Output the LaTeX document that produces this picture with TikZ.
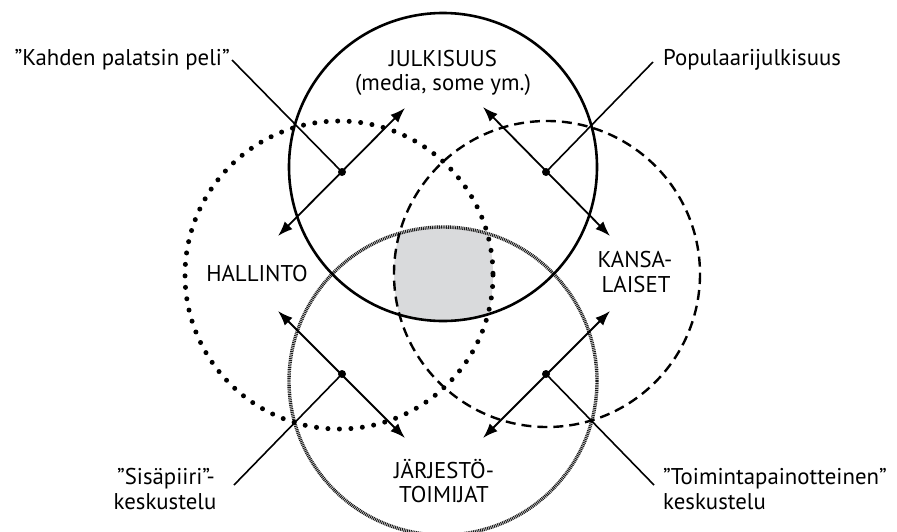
\documentclass[tikz,border=0pt]{standalone}
\usepackage{fontspec}
\setmainfont{PT Sans}
\usetikzlibrary{arrows.meta}
\definecolor{shadegray}{RGB}{217,218,220}
\begin{document}
\begin{tikzpicture}[x=1pt,y=-1pt,
  lbl/.style={inner sep=0pt,font=\fontsize{22.8}{26}\selectfont},
  solidc/.style={line width=2.6pt},
  dotc/.style={line width=5pt,line cap=round,dash pattern=on 0pt off 11.5pt},
  dashc/.style={line width=2.4pt,dash pattern=on 10pt off 6pt},
  finec/.style={line width=3.4pt,black!90,dash pattern=on 1pt off 0.8pt},
  dbl/.style={line width=1.8pt,{Latex[length=15pt,width=11pt]}-{Latex[length=15pt,width=11pt]}},
  leader/.style={line width=1.6pt},
  hub/.style={circle,fill=black,inner sep=0pt,minimum size=8pt}]
\useasboundingbox (0,0) rectangle (897,531);
% circle centres
\coordinate (A) at (443,167);
\coordinate (B) at (339,275);
\coordinate (C) at (547,274);
\coordinate (D) at (443,381);
% shaded common part
\begin{scope}
  \clip (A) circle (154);
  \clip (B) circle (154);
  \clip (C) circle (153);
  \fill[shadegray] (D) circle (154);
\end{scope}
\begin{scope}
  \clip (0,0) rectangle (897,531);
  \draw[finec] (D) circle (154);
\end{scope}
\draw[dotc] (B) circle (154);
\draw[dashc] (C) circle (153);
\draw[solidc] (A) circle (154);
% texts
\node[lbl,anchor=base] (julk1) at (443,66.5) {JULKISUUS};
\node[lbl,anchor=base] (julk2) at (443,90.5) {(media, some ym.)};
\node[lbl,anchor=base] (hall) at (257,281) {HALLINTO};
\node[lbl,anchor=base] (kans1) at (635,267) {KANSA-};
\node[lbl,anchor=base] (kans2) at (636,292) {LAISET};
\node[lbl,anchor=base] (jarj1) at (444,478) {JÄRJESTÖ-};
\node[lbl,anchor=base] (jarj2) at (444,502) {TOIMIJAT};
\node[lbl,anchor=base east] (kahden) at (230,65) {”Kahden palatsin peli”};
\node[lbl,anchor=base west] (popul) at (663,65) {Populaarijulkisuus};
\node[lbl,anchor=base] (sisa1) at (166,484) {”Sisäpiiri”-};
\node[lbl,anchor=base] (sisa2) at (165,509) {keskustelu};
\node[lbl,anchor=base west] (toim1) at (663,484) {”Toimintapainotteinen”};
\node[lbl,anchor=base west] (toim2) at (663,509) {keskustelu};
% hubs and arrow ends
\node[hub] (h1) at (342,172) {};
\node[hub] (h2) at (546,172) {};
\node[hub] (h3) at (342,374) {};
\node[hub] (h4) at (546,374) {};
\coordinate (a1) at (278,236);
\coordinate (b1) at (405,108);
\coordinate (a2) at (483,107);
\coordinate (b2) at (610,236);
\coordinate (a3) at (278,311);
\coordinate (b3) at (405,438);
\coordinate (a4) at (610,311);
\coordinate (b4) at (483,438);
\coordinate (l1) at (232,60);
\coordinate (l2) at (653,62);
\coordinate (l3) at (234,485);
\coordinate (l4) at (654,485);
\draw[dbl] (a1) -- (b1);
\draw[dbl] (a2) -- (b2);
\draw[dbl] (a3) -- (b3);
\draw[dbl] (a4) -- (b4);
\draw[leader] (l1) -- (h1.center);
\draw[leader] (l2) -- (h2.center);
\draw[leader] (l3) -- (h3.center);
\draw[leader] (l4) -- (h4.center);
\end{tikzpicture}
\end{document}
